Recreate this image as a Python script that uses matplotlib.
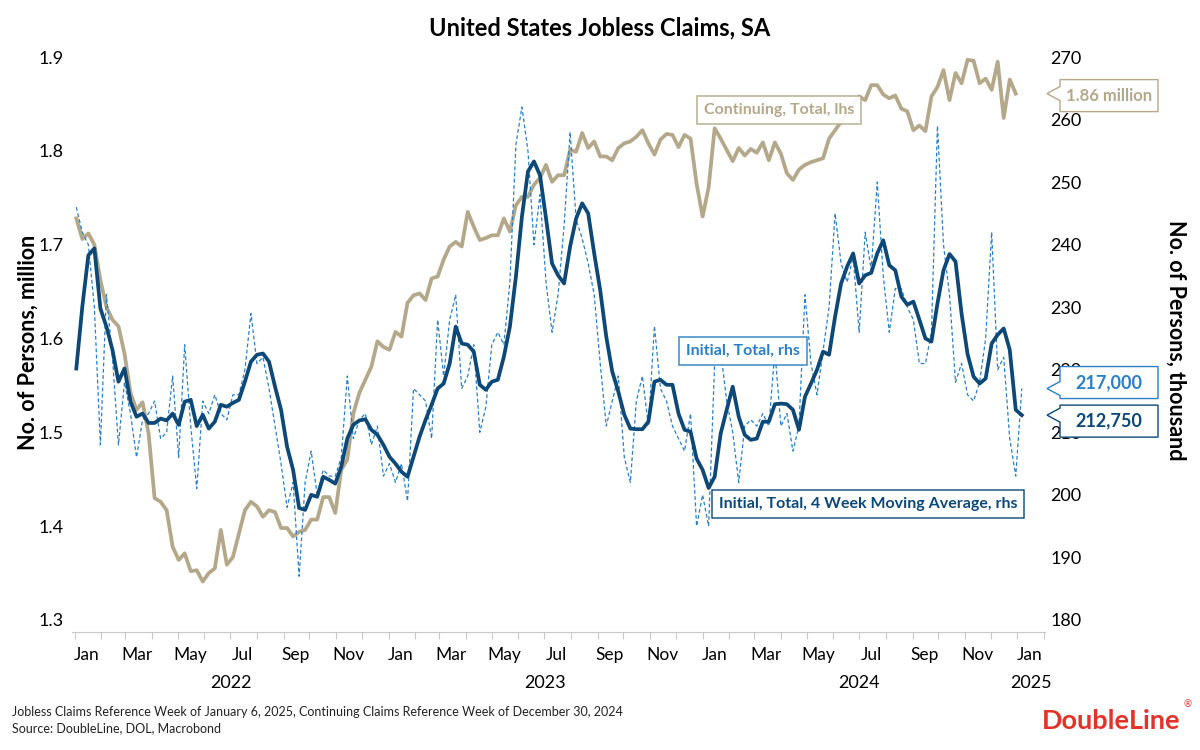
import pandas as pd
import matplotlib
matplotlib.use("Agg")
import matplotlib.pyplot as plt
import matplotlib.dates as mdates
from matplotlib.ticker import MultipleLocator, FormatStrFormatter, NullFormatter
from matplotlib.patches import Polygon
from matplotlib.transforms import IdentityTransform, blended_transform_factory

plt.rcParams['font.family'] = ['Lato', 'DejaVu Sans']

# weekly data (weeks starting Monday)
continuing = [
    1.728, 1.706, 1.712, 1.700, 1.662, 1.634, 1.620, 1.613, 1.584, 1.542,
    1.524, 1.532, 1.499, 1.430, 1.426, 1.417, 1.378, 1.364, 1.371, 1.352,
    1.353, 1.341, 1.350, 1.355, 1.396, 1.359, 1.367, 1.392, 1.417, 1.426,
    1.421, 1.410, 1.417, 1.415, 1.398, 1.398, 1.389, 1.394, 1.396, 1.407,
    1.407, 1.431, 1.431, 1.414, 1.460, 1.471, 1.520, 1.542, 1.556, 1.570,
    1.597, 1.591, 1.588, 1.607, 1.602, 1.638, 1.646, 1.648, 1.641, 1.664,
    1.666, 1.684, 1.698, 1.703, 1.698, 1.735, 1.719, 1.705, 1.707, 1.710,
    1.710, 1.728, 1.714, 1.742, 1.751, 1.751, 1.764, 1.771, 1.785, 1.767,
    1.774, 1.774, 1.801, 1.799, 1.819, 1.803, 1.810, 1.794, 1.794, 1.790,
    1.803, 1.808, 1.810, 1.815, 1.822, 1.808, 1.796, 1.812, 1.818, 1.817,
    1.804, 1.817, 1.813, 1.765, 1.730, 1.761, 1.824, 1.813, 1.801, 1.789,
    1.803, 1.795, 1.802, 1.798, 1.809, 1.790, 1.809, 1.797, 1.776, 1.769,
    1.780, 1.785, 1.788, 1.790, 1.792, 1.813, 1.822, 1.831, 1.840, 1.850,
    1.858, 1.854, 1.870, 1.870, 1.860, 1.856, 1.859, 1.845, 1.842, 1.822,
    1.827, 1.821, 1.858, 1.868, 1.886, 1.854, 1.883, 1.872, 1.897, 1.896,
    1.872, 1.877, 1.865, 1.895, 1.835, 1.876, 1.861,
]

initial = [
    246, 242, 240, 230, 208, 232, 222, 208, 218, 213,
    206, 212, 213, 215, 209, 210, 219, 206, 224, 211,
    201, 215, 213, 216, 213, 212, 216, 216, 220, 229,
    221, 222, 217, 211, 205, 198, 202, 187, 202, 207,
    200, 204, 203, 203, 206, 219, 209, 212, 213, 208,
    211, 203, 205, 202, 205, 199, 217, 216, 215, 209,
    228, 219, 228, 232, 217, 219, 224, 210, 214, 224,
    226, 224, 234, 256, 262, 255, 240, 248, 234, 226,
    232, 243, 258, 244, 241, 237, 232, 221, 211, 215,
    219, 206, 202, 215, 219, 211, 227, 217, 215, 211,
    209, 207, 213, 195, 200, 195, 221, 223, 215, 210,
    202, 211, 212, 211, 213, 211, 223, 211, 213, 207,
    211, 232, 221, 216, 223, 230, 245, 237, 234, 238,
    226, 242, 236, 250, 235, 226, 233, 233, 230, 228,
    221, 221, 226, 259, 240, 232, 218, 221, 216, 215,
    218, 225, 242, 220, 222, 209, 203, 217,
]

initial_4wk = [
    220.2, 230.1, 238.3, 239.4, 229.8, 226.9, 223.2, 218.1, 220.2, 214.9,
    212.5, 213.0, 211.5, 211.5, 212.2, 211.9, 213.0, 211.2, 214.9, 215.2,
    211.0, 212.8, 210.6, 211.7, 214.4, 214.1, 214.7, 215.2, 218.1, 221.3,
    222.4, 222.6, 221.3, 217.3, 213.6, 207.7, 204.0, 197.9, 197.6, 200.0,
    199.7, 202.9, 202.4, 201.8, 204.5, 209.0, 211.2, 211.9, 212.1, 210.4,
    209.6, 208.0, 206.1, 205.0, 203.7, 202.9, 206.1, 209.3, 212.0, 214.4,
    217.0, 217.8, 221.0, 226.9, 224.2, 224.0, 222.9, 217.6, 216.8, 218.1,
    218.4, 222.1, 226.9, 234.9, 244.5, 251.7, 253.3, 251.1, 244.2, 237.0,
    235.1, 233.8, 239.7, 244.2, 246.6, 245.0, 238.6, 232.7, 225.3, 219.7,
    216.5, 212.8, 210.6, 210.5, 210.5, 211.7, 218.1, 218.4, 217.6, 217.6,
    213.0, 210.4, 210.1, 205.8, 204.0, 201.1, 202.9, 209.8, 213.6, 217.3,
    212.5, 209.6, 208.8, 209.0, 211.7, 211.7, 214.5, 214.6, 214.5, 213.6,
    210.4, 215.7, 217.8, 220.0, 222.9, 222.4, 228.5, 233.8, 236.5, 238.6,
    233.8, 235.1, 235.5, 238.6, 240.7, 236.7, 235.9, 231.7, 230.4, 230.9,
    228.0, 225.0, 224.5, 230.6, 235.9, 238.5, 237.3, 229.0, 222.5, 218.9,
    217.8, 218.6, 224.2, 225.6, 226.6, 223.2, 213.6, 212.75,
]

weeks = pd.date_range('2022-01-03', periods=len(initial), freq='7D')
years = ['2022', '2023', '2024', '2025']
year_mid = ['2022-07-02', '2023-07-02', '2024-07-01', '2025-01-17']

TAN = '#b4a88b'
BLUE = '#2a80c4'
NAVY = '#0d4877'

W, H = 1200, 750
fig = plt.figure(figsize=(12, 7.5), dpi=100)
ax = fig.add_axes([72 / W, 130 / H, (1045 - 72) / W, (620 - 57) / H])
ax2 = ax.twinx()

ax.plot(weeks[:len(continuing)], continuing, color=TAN, lw=2.7, solid_joinstyle='round')
ax2.plot(weeks, initial, color=BLUE, lw=0.9, ls=(0, (3, 2)))
ax2.plot(weeks, initial_4wk, color=NAVY, lw=2.7, solid_joinstyle='round')

ax.set_xlim(pd.Timestamp('2021-12-29'), pd.Timestamp('2025-02-02'))
ax.set_ylim(1.3, 1.9)
ax2.set_ylim(180, 270)

for a in (ax, ax2):
    for s in ('left', 'right', 'top'):
        a.spines[s].set_visible(False)
ax2.spines['bottom'].set_visible(False)
ax.spines['bottom'].set_position(('outward', 8.6))
ax.spines['bottom'].set_color('#c8c8c8')

ax.yaxis.set_major_locator(MultipleLocator(0.1))
ax.yaxis.set_major_formatter(FormatStrFormatter('%.1f'))
ax.tick_params(axis='y', length=0, pad=6, labelsize=13)
ax2.set_yticks(range(180, 271, 10))
ax2.tick_params(axis='y', length=0, pad=4, labelsize=13)

ax.xaxis.set_major_locator(mdates.MonthLocator())
ax.xaxis.set_major_formatter(NullFormatter())
ax.xaxis.set_minor_locator(mdates.MonthLocator(bymonth=(1, 3, 5, 7, 9, 11), bymonthday=15))
ax.xaxis.set_minor_formatter(mdates.DateFormatter('%b'))
ax.tick_params(axis='x', which='major', length=5, color='#c8c8c8', direction='out')
ax.tick_params(axis='x', which='minor', length=0, pad=11, labelsize=12.5)

tr = blended_transform_factory(ax.transData, ax.transAxes)
for yr, mid in zip(years, year_mid):
    ax.text(pd.Timestamp(mid), -0.112, yr, transform=tr, ha='center', va='center', fontsize=13)

fig.text(600 / W, 1 - 28 / H, 'United States Jobless Claims, SA', ha='center', va='center',
         fontsize=17, fontweight='bold')
fig.text(28 / W, 1 - 342 / H, 'No. of Persons, million', rotation=90, ha='center', va='center',
         fontsize=15.5, fontweight='bold')
fig.text(1176 / W, 1 - 340 / H, 'No. of Persons, thousand', rotation=270, ha='center', va='center',
         fontsize=15.5, fontweight='bold')

# series labels
def label(x, y, txt, color):
    fig.text(x / W, 1 - y / H, txt, ha='center', va='center', fontsize=11.5, fontweight='bold',
             color=color, zorder=5,
             bbox=dict(boxstyle='square,pad=0.45', fc='white', ec=color, lw=1.1, alpha=0.92))

label(779, 110, 'Continuing, Total, lhs', TAN)
label(743, 351, 'Initial, Total, rhs', BLUE)
label(868, 504, 'Initial, Total, 4 Week Moving Average, rhs', NAVY)

# last value callouts on the right
def callout(a, value, txt, color, dy, size):
    yd = a.transData.transform((0, value))[1]
    yc = yd + dy
    x0, x1, tip = 1060, 1158, 1047
    pts = [(x0, yc + 16), (x1, yc + 16), (x1, yc - 16), (x0, yc - 16),
           (x0, yd - 7), (tip, yd), (x0, yd + 7)]
    fig.add_artist(Polygon(pts, closed=True, transform=IdentityTransform(), fc='white',
                           ec=color, lw=1.0, zorder=6))
    fig.text((x0 + x1) / 2, yc, txt, transform=IdentityTransform(), ha='center', va='center',
             fontsize=size, fontweight='bold', color=color, zorder=7)

callout(ax, continuing[-1], f'{continuing[-1]:.2f} million', TAN, -2, 12)
callout(ax2, initial[-1], f'{initial[-1] * 1000:,.0f}', BLUE, 6, 13)
callout(ax2, initial_4wk[-1], f'{initial_4wk[-1] * 1000:,.0f}', NAVY, -6, 13)

fig.text(12 / W, 1 - 712 / H,
         'Jobless Claims Reference Week of January 6, 2025, Continuing Claims Reference Week of December 30, 2024',
         fontsize=9, va='center', color='#222222')
fig.text(12 / W, 1 - 728 / H, 'Source: DoubleLine, DOL, Macrobond', fontsize=9, va='center', color='#222222')
fig.text(1180 / W, 1 - 721 / H, 'DoubleLine', ha='right', va='center', fontsize=19.5,
         fontweight='bold', color='#e2332a')
fig.text(1188 / W, 1 - 705 / H, '\u00ae', ha='center', va='center', fontsize=7, color='#e2332a')

fig.savefig('out.png', dpi=100)
